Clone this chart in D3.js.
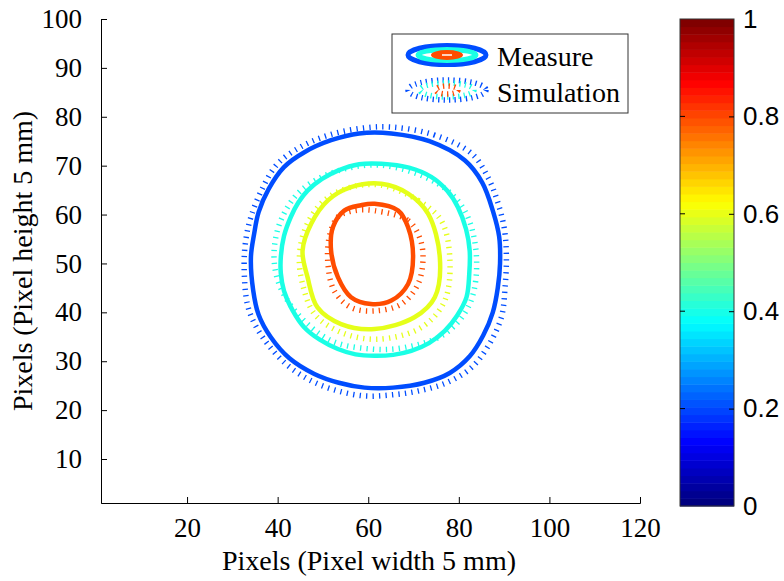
<!DOCTYPE html>
<html lang="en">
<head>
<meta charset="UTF-8">
<title>Contour comparison</title>
<script src="https://d3js.org/d3.v7.min.js"></script>
<style>
  body { margin: 0; background: #fff; }
  text { fill: #000; }
</style>
</head>
<body>
<script>
// contour levels (normalised intensity)
const levels = [0.2, 0.4, 0.6, 0.8];

const measure02 = [[65.1,76.6],[73.5,75.0],[81.3,71.1],[85.2,66.5],[87.6,60.5],[88.9,55.5],[89.1,50.0],[88.6,45.0],[87.5,40.0],[85.4,35.3],[82.4,31.0],[78.0,27.6],[72.4,25.6],[65.5,24.6],[59.2,24.6],[53.5,25.6],[48.1,27.4],[42.6,30.6],[38.5,34.9],[35.8,39.5],[34.6,44.5],[34.1,51.3],[34.8,56.0],[35.8,60.5],[38.0,65.2],[41.4,69.7],[46.0,72.8],[51.8,75.2],[58.0,76.6]];
const measure04 = [[62.9,70.4],[69.0,69.6],[73.9,67.7],[77.5,64.8],[79.8,61.5],[81.6,57.0],[82.4,52.6],[82.3,47.8],[81.7,43.1],[79.6,39.3],[76.9,36.2],[73.4,33.7],[69.5,32.1],[65.5,31.3],[61.4,31.1],[57.2,31.4],[53.3,32.5],[49.3,34.4],[45.9,36.9],[43.3,40.4],[41.4,44.4],[40.7,48.0],[40.7,51.3],[41.4,55.6],[42.9,59.5],[44.6,62.5],[46.6,64.9],[49.8,67.3],[53.3,69.0],[58.0,70.3]];
const measure06 = [[62.9,66.3],[68.8,64.3],[73.2,60.2],[75.8,51.3],[74.7,43.1],[70.2,39.0],[61.4,36.6],[54.0,37.6],[48.8,41.0],[46.6,47.2],[45.5,52.6],[47.4,58.1],[51.1,62.9],[56.2,65.6]];
const measure08 = [[61.4,62.2],[66.6,60.8],[68.8,57.4],[69.9,51.3],[68.8,45.8],[65.1,42.4],[60.6,41.7],[56.2,43.1],[53.3,47.2],[51.8,52.6],[52.2,57.4],[54.7,60.8],[58.4,61.9]];

// simulated contours
const sim02 = [[65.1,77.9],[74.5,76.3],[82.8,72.5],[86.5,67.5],[88.7,62.2],[90.1,56.8],[90.5,51.3],[90.2,45.0],[89.4,39.0],[86.6,33.3],[82.8,28.7],[77.3,25.6],[71.0,23.9],[65.0,23.1],[59.2,22.9],[53.0,24.0],[47.4,26.0],[42.0,29.3],[37.8,33.5],[35.0,37.5],[33.3,41.7],[32.6,49.9],[33.0,55.0],[34.1,59.5],[36.6,65.3],[40.0,70.4],[45.2,73.9],[51.1,76.2],[58.0,77.6]];
const sim04 = [[62.9,70.1],[75.4,66.3],[81.3,60.8],[83.9,51.3],[82.4,41.7],[76.9,35.6],[68.0,32.8],[60.6,32.5],[51.8,34.2],[44.4,39.7],[40.3,45.8],[39.2,52.0],[40.7,58.8],[45.1,64.9],[52.5,68.7]];
const sim06 = [[62.9,66.0],[71.0,62.9],[76.1,58.8],[78.0,51.3],[76.9,42.4],[71.7,36.9],[62.1,34.5],[54.0,35.9],[48.1,39.7],[45.5,45.8],[44.8,51.3],[46.2,57.4],[50.3,62.9],[56.2,65.6]];
const sim08 = [[61.4,60.8],[68.8,58.8],[71.3,55.4],[72.1,51.3],[71.0,45.8],[67.3,41.7],[61.4,40.3],[56.2,41.0],[52.5,44.4],[51.1,49.9],[51.4,55.4],[53.3,59.5],[56.9,60.8]];

const xTicks = [20, 40, 60, 80, 100, 120];
const yTicks = [10, 20, 30, 40, 50, 60, 70, 80, 90, 100];
const cbTicks = [0, 0.2, 0.4, 0.6, 0.8, 1];
const legendLabels = ["Measure", "Simulation"];

const measured = [measure02, measure04, measure06, measure08];
const simulated = [sim02, sim04, sim06, sim08];

// MATLAB jet colormap
function jet(v) {
  const c = t => Math.round(255 * Math.max(0, Math.min(1, t)));
  return d3.rgb(c(Math.min(4 * v - 1.5, -4 * v + 4.5)),
                c(Math.min(4 * v - 0.5, -4 * v + 3.5)),
                c(Math.min(4 * v + 0.5, -4 * v + 2.5))).formatHex();
}

const W = 784, H = 581;
const serif = "'Liberation Serif', 'Times New Roman', serif";
const sans = "'Liberation Sans', Arial, sans-serif";

const svg = d3.select("body").append("svg")
  .attr("width", W).attr("height", H)
  .style("display", "block");

const plot = { left: 101, right: 640, top: 19, bottom: 503 };
const x = d3.scaleLinear().domain([1, 120]).range([plot.left, plot.right]);
const y = d3.scaleLinear().domain([1, 100]).range([plot.bottom, plot.top]);

// axes (left + bottom only, ticks inward)
const xAxis = svg.append("g")
  .attr("transform", `translate(0,${plot.bottom})`)
  .call(d3.axisBottom(x).tickValues(xTicks).tickSizeInner(-6).tickSizeOuter(-6).tickPadding(15));
const yAxis = svg.append("g")
  .attr("transform", `translate(${plot.left},0)`)
  .call(d3.axisLeft(y).tickValues(yTicks).tickSizeInner(-6).tickSizeOuter(0).tickPadding(19));

[xAxis, yAxis].forEach(a => {
  a.select(".domain").attr("stroke", "#000").attr("stroke-width", 1);
  a.selectAll(".tick line").attr("stroke", "#000");
  a.selectAll(".tick text").style("font-family", serif).style("font-size", "27px").attr("fill", "#000");
});
xAxis.selectAll(".tick text").attr("dy", "0.71em");

svg.append("text")
  .attr("x", 369).attr("y", 570)
  .attr("text-anchor", "middle")
  .style("font-family", serif).style("font-size", "28px")
  .text("Pixels (Pixel width 5 mm)");

svg.append("text")
  .attr("transform", `translate(32,${(plot.top + plot.bottom) / 2}) rotate(-90)`)
  .attr("text-anchor", "middle")
  .style("font-family", serif).style("font-size", "28px")
  .text("Pixels (Pixel height 5 mm)");

// contours
const line = d3.line().x(d => x(d[0])).y(d => y(d[1])).curve(d3.curveCatmullRomClosed.alpha(0.5));
const dotStyle = { width: 5.5, dash: "1.3,5.2" };

svg.append("g").selectAll("path")
  .data(simulated)
  .join("path")
  .attr("d", line)
  .attr("fill", "none")
  .attr("stroke", (d, i) => jet(levels[i]))
  .attr("stroke-width", dotStyle.width)
  .attr("stroke-dasharray", dotStyle.dash);

svg.append("g").selectAll("path")
  .data(measured)
  .join("path")
  .attr("d", line)
  .attr("fill", "none")
  .attr("stroke", (d, i) => jet(levels[i]))
  .attr("stroke-width", 4.5)
  .attr("stroke-linejoin", "round");

// legend
const lg = svg.append("g");
lg.append("rect")
  .attr("x", 392).attr("y", 34).attr("width", 236).attr("height", 79)
  .attr("fill", "#fff").attr("stroke", "#333").attr("stroke-width", 1);

const icon = lg.append("g").attr("transform", "translate(447,55)");
icon.append("ellipse").attr("rx", 39).attr("ry", 9.5).attr("fill", "none").attr("stroke", jet(levels[0])).attr("stroke-width", 5);
icon.append("ellipse").attr("rx", 29).attr("ry", 5.5).attr("fill", "none").attr("stroke", jet(levels[1])).attr("stroke-width", 5);
icon.append("ellipse").attr("rx", 16).attr("ry", 5).attr("fill", jet(levels[3]));
icon.append("line").attr("x1", -5).attr("x2", 5).attr("stroke", "#fff").attr("stroke-width", 1.5);

const icon2 = lg.append("g").attr("transform", "translate(447,90)");
[[39, 10], [27, 7], [11, 4]].forEach((r, i) => {
  icon2.append("ellipse").attr("rx", r[0]).attr("ry", r[1])
    .attr("fill", "none").attr("stroke", jet(levels[i === 2 ? 3 : i]))
    .attr("stroke-width", dotStyle.width).attr("stroke-dasharray", "1.3,4.2");
});

lg.selectAll("text.lab")
  .data(legendLabels)
  .join("text")
  .attr("class", "lab")
  .attr("x", 497).attr("y", (d, i) => 66 + i * 36)
  .style("font-family", serif).style("font-size", "28px")
  .text(d => d);

// colorbar
const cb = { left: 680, right: 734, top: 19, bottom: 506 };
const cy = d3.scaleLinear().domain([0, 1]).range([cb.bottom, cb.top]);
const nColors = 64;
svg.append("g").selectAll("rect")
  .data(d3.range(nColors))
  .join("rect")
  .attr("x", cb.left).attr("width", cb.right - cb.left)
  .attr("y", i => cy((i + 1) / nColors))
  .attr("height", i => cy(i / nColors) - cy((i + 1) / nColors) + 0.5)
  .attr("fill", i => jet(i / (nColors - 1)));

svg.append("rect")
  .attr("x", cb.left).attr("y", cb.top)
  .attr("width", cb.right - cb.left).attr("height", cb.bottom - cb.top)
  .attr("fill", "none").attr("stroke", "#333").attr("stroke-width", 1);

const cbAxis = svg.append("g")
  .attr("transform", `translate(${cb.right},0)`)
  .call(d3.axisRight(cy).tickValues(cbTicks).tickFormat(d3.format("")).tickSizeInner(-5).tickSizeOuter(0).tickPadding(9));
cbAxis.select(".domain").remove();
cbAxis.selectAll(".tick line").attr("stroke", "#000");
cbAxis.selectAll(".tick text").style("font-family", sans).style("font-size", "26px").attr("fill", "#000");

// inner ticks on the left edge of the colorbar
svg.append("g").selectAll("line")
  .data(cbTicks.filter(t => t > 0 && t < 1))
  .join("line")
  .attr("x1", cb.left).attr("x2", cb.left + 5)
  .attr("y1", d => cy(d)).attr("y2", d => cy(d))
  .attr("stroke", "#000");
cbAxis.selectAll(".tick").filter(d => d === 0 || d === 1).select("line").remove();
</script>
</body>
</html>
